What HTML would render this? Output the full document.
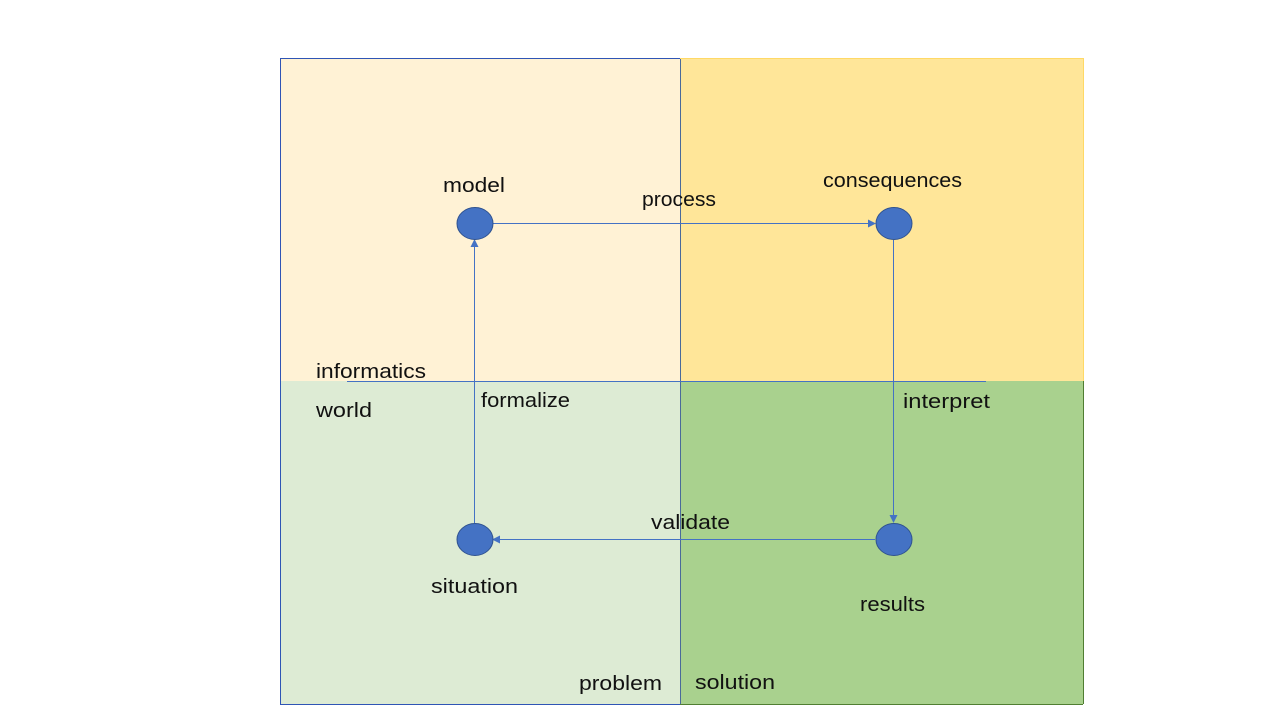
<!DOCTYPE html>
<html><head><meta charset="utf-8"><style>
body{margin:0;background:#fff;}
svg{display:block;}
text{font-family:"Liberation Sans","DejaVu Sans",sans-serif;font-size:20px;fill:#111;}
</style></head><body>
<svg width="1280" height="720" viewBox="0 0 1280 720">
<defs><marker id="a" markerWidth="8" markerHeight="8" refX="7" refY="4" orient="auto" markerUnits="userSpaceOnUse"><path d="M0,0 L8,4 L0,8 z" fill="#4472C4"/></marker></defs>
<rect x="280" y="58" width="400" height="323" fill="#FFF2D5"/>
<rect x="680" y="58" width="403" height="323" fill="#FFE699"/>
<rect x="280" y="381" width="400" height="323" fill="#DDEBD4"/>
<rect x="680" y="381" width="403" height="323" fill="#A9D18E"/>
<rect x="280.5" y="58.5" width="400" height="646" fill="none" stroke="#2F55B5" stroke-width="1"/>
<line x1="680.5" y1="58" x2="680.5" y2="704" stroke="#4a6a9a" stroke-width="1"/>
<line x1="1083.5" y1="381" x2="1083.5" y2="704" stroke="#507E32" stroke-width="1"/>
<line x1="680" y1="704.5" x2="1083" y2="704.5" stroke="#507E32" stroke-width="1"/>
<line x1="680" y1="58.5" x2="1083" y2="58.5" stroke="#FFD966" stroke-width="1"/>
<line x1="1083.5" y1="58" x2="1083.5" y2="381" stroke="#FFD966" stroke-width="1"/>
<line x1="347" y1="381.5" x2="986" y2="381.5" stroke="#4472C4" stroke-width="1"/>
<line x1="493" y1="223.5" x2="875" y2="223.5" stroke="#4472C4" marker-end="url(#a)"/>
<line x1="893.5" y1="240" x2="893.5" y2="522" stroke="#4472C4" marker-end="url(#a)"/>
<line x1="875" y1="539.5" x2="493" y2="539.5" stroke="#4472C4" marker-end="url(#a)"/>
<line x1="474.5" y1="523" x2="474.5" y2="240" stroke="#4472C4" marker-end="url(#a)"/>
<g fill="#4472C4" stroke="#2F528F" stroke-width="1">
<ellipse cx="475" cy="223.5" rx="18" ry="16"/>
<ellipse cx="894" cy="223.5" rx="18" ry="16"/>
<ellipse cx="475" cy="539.5" rx="18" ry="16"/>
<ellipse cx="894" cy="539.5" rx="18" ry="16"/>
</g>
<text x="443" y="192" textLength="62" lengthAdjust="spacingAndGlyphs">model</text>
<text x="823" y="187" textLength="139" lengthAdjust="spacingAndGlyphs">consequences</text>
<text x="642" y="206" textLength="74" lengthAdjust="spacingAndGlyphs">process</text>
<text x="316" y="378" textLength="110" lengthAdjust="spacingAndGlyphs">informatics</text>
<text x="316" y="417" textLength="56" lengthAdjust="spacingAndGlyphs">world</text>
<text x="481" y="407" textLength="89" lengthAdjust="spacingAndGlyphs">formalize</text>
<text x="903" y="408" textLength="87" lengthAdjust="spacingAndGlyphs">interpret</text>
<text x="651" y="529" textLength="79" lengthAdjust="spacingAndGlyphs">validate</text>
<text x="431" y="593" textLength="87" lengthAdjust="spacingAndGlyphs">situation</text>
<text x="860" y="611" textLength="65" lengthAdjust="spacingAndGlyphs">results</text>
<text x="579" y="690" textLength="83" lengthAdjust="spacingAndGlyphs">problem</text>
<text x="695" y="689" textLength="80" lengthAdjust="spacingAndGlyphs">solution</text>
</svg>
</body></html>
